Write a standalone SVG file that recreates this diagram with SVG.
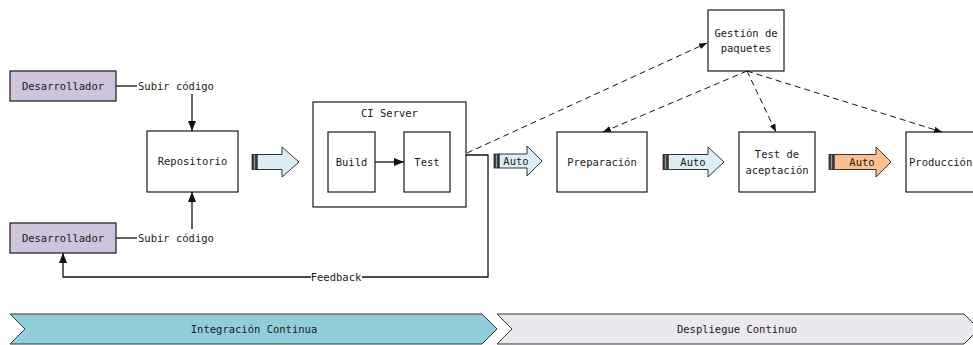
<svg xmlns="http://www.w3.org/2000/svg" width="973" height="345" viewBox="0 0 973 345">
  <defs>
    <style>
      text { font-family: "DejaVu Sans Mono", "Liberation Mono", monospace; font-size: 10.5px; fill: #1a1a1a; }
      .c { text-anchor: middle; dominant-baseline: central; }
      .l { text-anchor: start; dominant-baseline: central; }
      .box { fill: #ffffff; stroke: #1a1a1a; stroke-width: 1.2; }
      .dev { fill: #cfc4dc; stroke: #1a1a1a; stroke-width: 1.2; }
      .wire { fill: none; stroke: #111; stroke-width: 1.3; }
      .dash { fill: none; stroke: #111; stroke-width: 1; stroke-dasharray: 6 4; }
      .flow { stroke: #333; stroke-width: 1; }
      .blue { fill: #daeef3; }
      .orange { fill: #fac090; }
      .grip { fill: #444; stroke: #222; stroke-width: 0.8; }
      .phase { stroke: #333; stroke-width: 1; }
    </style>
    <marker id="head" markerUnits="userSpaceOnUse" markerWidth="10" markerHeight="8" refX="10" refY="4" orient="auto">
      <path d="M0,0 L10,4 L0,8 z" fill="#111"/>
    </marker>
    <marker id="headSmall" markerUnits="userSpaceOnUse" markerWidth="8" markerHeight="6" refX="8" refY="3" orient="auto">
      <path d="M0,0 L8,3 L0,6 z" fill="#111"/>
    </marker>
  </defs>

  <!-- phase bands -->
  <g id="phase-ci">
    <path class="phase" d="M10,314 L482,314 L497,329 L482,344 L10,344 L25,329 z" fill="#92cddc"/>
    <text class="c" x="254" y="329">Integración Continua</text>
  </g>
  <g id="phase-cd">
    <path class="phase" d="M497,314 L964,314 L979,329 L964,344 L497,344 L512,329 z" fill="#ebe8f0"/>
    <text class="c" x="737" y="329">Despliegue Continuo</text>
  </g>

  <!-- flow arrows -->
  <g id="flow-push">
    <path class="flow blue" d="M257,154.5 L282,154.5 L282,147 L299,162 L282,177 L282,169.5 L257,169.5 z"/>
    <rect class="grip" x="252" y="154.5" width="5" height="15"/>
    <line x1="254.5" y1="155" x2="254.5" y2="169" stroke="#999" stroke-width="1"/>
  </g>
  <g id="flow-auto-1">
    <path class="flow blue" d="M499,154 L527,154 L527,146 L542,161 L527,176 L527,168 L499,168 z"/>
    <rect class="grip" x="494" y="154" width="5" height="14"/>
    <line x1="496.5" y1="154.5" x2="496.5" y2="167.5" stroke="#999" stroke-width="1"/>
    <text class="c" x="516" y="161">Auto</text>
  </g>
  <g id="flow-auto-2">
    <path class="flow blue" d="M668,154.5 L708,154.5 L708,147 L724,162 L708,177 L708,169.5 L668,169.5 z"/>
    <rect class="grip" x="663" y="154.5" width="5" height="15"/>
    <line x1="665.5" y1="155" x2="665.5" y2="169" stroke="#999" stroke-width="1"/>
    <text class="c" x="693" y="162">Auto</text>
  </g>
  <g id="flow-auto-3">
    <path class="flow orange" d="M834,154.5 L876,154.5 L876,147 L891,162 L876,177 L876,169.5 L834,169.5 z"/>
    <rect class="grip" x="829" y="154.5" width="5" height="15"/>
    <line x1="831.5" y1="155" x2="831.5" y2="169" stroke="#999" stroke-width="1"/>
    <text class="c" x="862" y="162">Auto</text>
  </g>

  <!-- nodes -->
  <g id="dev-top">
    <rect class="dev" x="10" y="71" width="106" height="30"/>
    <text class="c" x="63" y="86">Desarrollador</text>
  </g>
  <g id="dev-bottom">
    <rect class="dev" x="10" y="223" width="106" height="30"/>
    <text class="c" x="63" y="238">Desarrollador</text>
  </g>
  <g id="repo">
    <rect class="box" x="147" y="131" width="91" height="61"/>
    <text class="c" x="192.5" y="161">Repositorio</text>
  </g>
  <g id="ci-server">
    <rect class="box" x="313" y="102" width="153" height="105"/>
    <text class="c" x="389.5" y="113">CI Server</text>
  </g>
  <g id="build">
    <rect class="box" x="328" y="132" width="47" height="60"/>
    <text class="c" x="351.5" y="162">Build</text>
  </g>
  <g id="test">
    <rect class="box" x="404" y="132" width="46" height="60"/>
    <text class="c" x="427" y="162">Test</text>
  </g>
  <g id="packages">
    <rect class="box" x="708" y="10" width="76" height="61"/>
    <text class="c" x="746" y="33">Gestión de</text>
    <text class="c" x="746" y="48">paquetes</text>
  </g>
  <g id="staging">
    <rect class="box" x="557" y="132" width="90" height="60"/>
    <text class="c" x="602" y="162">Preparación</text>
  </g>
  <g id="acceptance">
    <rect class="box" x="739" y="132" width="76" height="60"/>
    <text class="c" x="777" y="154">Test de</text>
    <text class="c" x="777" y="170">aceptación</text>
  </g>
  <g id="production">
    <rect class="box" x="906" y="132" width="80" height="60"/>
    <text class="l" x="909" y="162">Producción</text>
  </g>

  <!-- connectors -->
  <g id="connectors">
    <polyline class="wire" points="116,86 137,86"/>
    <polyline class="wire" points="116,238 137,238"/>
    <line class="wire" x1="192" y1="94" x2="192" y2="131" marker-end="url(#head)"/>
    <line class="wire" x1="192" y1="229" x2="192" y2="192" marker-end="url(#head)"/>
    <line class="wire" x1="375" y1="162" x2="404" y2="162" marker-end="url(#head)"/>
    <polyline class="wire" points="466,155 488,155 488,277 362,277"/>
    <polyline class="wire" points="311,277 63,277 63,253" marker-end="url(#head)"/>
    <line class="dash" x1="467" y1="153" x2="707" y2="43" marker-end="url(#headSmall)"/>
    <line class="dash" x1="747" y1="71" x2="603" y2="132" marker-end="url(#headSmall)"/>
    <line class="dash" x1="747" y1="71" x2="776" y2="132" marker-end="url(#headSmall)"/>
    <line class="dash" x1="747" y1="71" x2="942" y2="132" marker-end="url(#headSmall)"/>
    <text class="l" x="138" y="86">Subir código</text>
    <text class="l" x="138" y="238">Subir código</text>
    <text class="c" x="336" y="277">Feedback</text>
  </g>
</svg>
